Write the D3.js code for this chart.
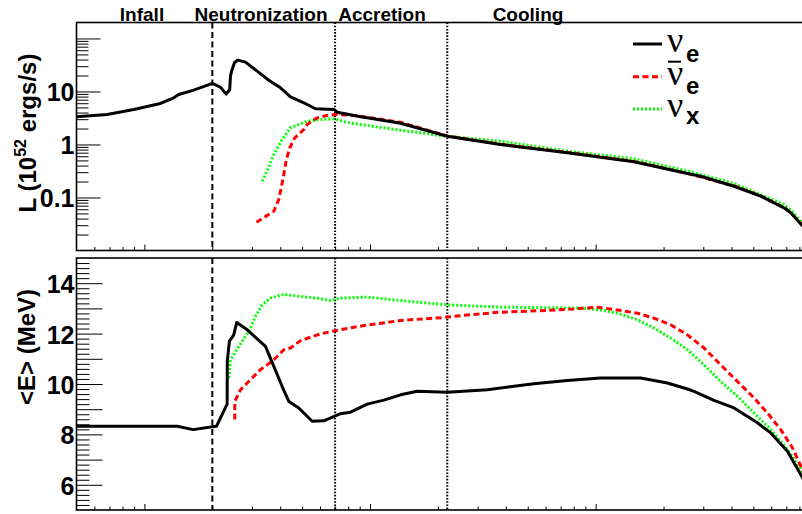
<!DOCTYPE html>
<html><head><meta charset="utf-8">
<script src="https://cdn.jsdelivr.net/npm/d3@7"></script>
<style>html,body{margin:0;padding:0;background:#fff;} svg{display:block;}</style>
</head><body>
<svg id="c" width="802" height="514"></svg>
<script>
// ---------------- DATA ----------------
// time axis (s, log scale)
const xDomain = [0.005, 8.3];
const phaseTimes = [0.02, 0.07, 0.22];
const phaseLabels = ["Infall", "Neutronization", "Accretion", "Cooling"];

// Luminosity L (10^52 erg/s)
const tLnue = [0.005, 0.00683, 0.00897, 0.01178, 0.01349, 0.0142, 0.01654, 0.02003, 0.02173, 0.02303, 0.02389, 0.02406, 0.02448, 0.02506, 0.02592, 0.02805, 0.0316, 0.03558, 0.0401, 0.04442, 0.05087, 0.05732, 0.06912, 0.07156, 0.09077, 0.0972, 0.1366, 0.22, 0.3791, 0.749, 1.478, 2.464, 2.922, 4.106, 5.392, 6.839, 7.323, 8.17, 8.3];
const Lnue = [3.33, 3.68, 4.58, 5.94, 7.61, 8.78, 10.58, 14.16, 12.0, 8.9, 10.9, 19.4, 26.0, 34.8, 39.0, 35.7, 24.2, 16.3, 11.7, 7.94, 6.12, 4.72, 4.58, 4.07, 3.33, 3.19, 2.52, 1.43, 1.0, 0.70, 0.472, 0.292, 0.252, 0.163, 0.106, 0.0639, 0.0514, 0.0309, 0.0285];

const tLanue = [0.03138, 0.03746, 0.0394, 0.0412, 0.0425, 0.0440, 0.0462, 0.0509, 0.05265, 0.05833, 0.06461, 0.07031, 0.08475, 0.09719, 0.1366, 0.22, 0.3791, 0.749, 1.478, 2.464, 4.106, 5.392, 6.839, 7.323, 8.17, 8.3];
const Lanue = [0.0342, 0.0551, 0.092, 0.23, 0.5, 0.85, 1.3, 1.92, 2.38, 3.19, 3.53, 3.68, 3.53, 3.25, 2.62, 1.45, 1.01, 0.71, 0.48, 0.295, 0.165, 0.107, 0.065, 0.052, 0.031, 0.0288];

const tLnux = [0.03327, 0.03501, 0.03746, 0.0408, 0.0444, 0.0527, 0.0603, 0.0698, 0.0792, 0.0972, 0.1366, 0.22, 0.3791, 0.749, 1.478, 2.464, 4.106, 6.839, 7.4, 8.3];
const Lnux = [0.203, 0.32, 0.648, 1.243, 2.07, 2.75, 2.96, 3.05, 2.6, 2.28, 1.86, 1.43, 1.154, 0.747, 0.537, 0.3275, 0.1836, 0.0738, 0.056, 0.031];

// Mean energy <E> (MeV)
const tEnue = [0.005, 0.01397, 0.01644, 0.02, 0.02086, 0.02263, 0.02326, 0.0233, 0.0238, 0.02489, 0.02565, 0.02854, 0.0344, 0.03746, 0.0408, 0.04365, 0.04834, 0.05541, 0.0624, 0.074, 0.08194, 0.09719, 0.1151, 0.1366, 0.1619, 0.22, 0.3308, 0.5325, 0.749, 1.052, 1.583, 2.08, 2.551, 2.729, 3.346, 4.106, 5.213, 5.972, 7.083, 8.3];
const Enue = [8.32, 8.32, 8.19, 8.30, 8.32, 8.98, 9.2, 10.9, 11.7, 11.95, 12.44, 12.15, 11.49, 10.7, 9.9, 9.31, 9.05, 8.52, 8.54, 8.82, 8.88, 9.2, 9.36, 9.57, 9.71, 9.67, 9.77, 10.01, 10.14, 10.24, 10.24, 10.04, 9.8, 9.71, 9.35, 9.05, 8.46, 8.06, 7.33, 6.25];

const tEanue = [0.02514, 0.02515, 0.02666, 0.02854, 0.03269, 0.03501, 0.03746, 0.04148, 0.04442, 0.0492, 0.0603, 0.0698, 0.0878, 0.1076, 0.1366, 0.2125, 0.2698, 0.3791, 0.5704, 0.8013, 1.017, 1.248, 1.53, 1.814, 2.151, 2.551, 3.022, 3.584, 4.25, 5.035, 5.773, 6.614, 7.455, 8.3];
const Eanue = [8.59, 9.31, 9.77, 10.04, 10.57, 10.76, 10.96, 11.36, 11.43, 11.72, 11.99, 12.11, 12.28, 12.39, 12.52, 12.64, 12.74, 12.85, 12.91, 12.98, 13.05, 12.94, 12.81, 12.61, 12.35, 11.95, 11.43, 10.76, 10.10, 9.45, 8.85, 8.19, 7.47, 6.55];

const tEnux = [0.02365, 0.02406, 0.0262, 0.0295, 0.03105, 0.03327, 0.03622, 0.04148, 0.04919, 0.05833, 0.06682, 0.07398, 0.09719, 0.1366, 0.22, 0.3791, 0.8875, 1.052, 1.248, 1.53, 1.814, 2.151, 2.551, 3.022, 3.584, 4.25, 5.035, 5.972, 7.083, 8.3];
const Enux = [10.24, 10.96, 11.49, 12.2, 12.68, 13.14, 13.41, 13.56, 13.47, 13.41, 13.31, 13.41, 13.45, 13.31, 13.14, 13.05, 13.01, 12.94, 12.81, 12.55, 12.22, 11.82, 11.36, 10.76, 10.10, 9.51, 8.85, 8.19, 7.40, 6.5];

// axis tick labels
const lTickValues = [0.1, 1, 10];
const lTickLabels = ["0.1", "1", "10"];
const eTickValues = [6, 8, 10, 12, 14];
const eTickLabels = ["6", "8", "10", "12", "14"];
const legendSub = ["e", "e", "x"];

// ---------------- LAYOUT ----------------
const svg = d3.select("#c");
const X0 = 76.5, X1 = 803;
const P1 = {y0: 22.5, y1: 250.5};
const P2 = {y0: 258, y1: 510};
const FONT = "'Liberation Sans', Arial, Helvetica, sans-serif";

const x = d3.scaleLog().domain(xDomain).range([X0, X1]);
const yL = d3.scaleLog().domain([0.01, 200]).range([P1.y1, P1.y0]);
const yE = d3.scaleLinear().domain([5, 15]).range([P2.y1, P2.y0]);

// clip paths
const defs = svg.append("defs");
[["c1", P1], ["c2", P2]].forEach(([id, p]) => {
  defs.append("clipPath").attr("id", id).append("rect")
    .attr("x", X0).attr("y", p.y0).attr("width", X1 - X0).attr("height", p.y1 - p.y0);
});

// --- minor tick helpers
const decadesMinor = (lo, hi) => {
  const out = [];
  for (let k = -3; k <= 3; k++) for (let m = 2; m <= 9; m++) {
    const v = m * Math.pow(10, k);
    if (v > lo * 1.0001 && v < hi * 0.9999) out.push(v);
  }
  return out;
};

function styleAxis(g) {
  g.select(".domain").remove();
  g.selectAll(".tick line").attr("stroke", "#000").attr("stroke-width", 1);
}

// Y axis top (log)
const gyL1 = svg.append("g").attr("transform", `translate(${X0},0)`)
  .call(d3.axisLeft(yL).tickValues(decadesMinor(0.01, 200)).tickSizeInner(-12).tickSizeOuter(0).tickFormat(""));
styleAxis(gyL1);
const gyL2 = svg.append("g").attr("transform", `translate(${X0},0)`)
  .call(d3.axisLeft(yL).tickValues([0.1, 1, 10, 100]).tickSizeInner(-24).tickSizeOuter(0).tickPadding(2)
    .tickFormat(d => { const i = lTickValues.indexOf(d); return i >= 0 ? lTickLabels[i] : ""; }));
styleAxis(gyL2);

// Y axis bottom (linear)
const eMinor = d3.range(50, 151, 2).map(v => v / 10).filter(v => Math.abs(v - Math.round(v)) > 1e-6);
const gyE1 = svg.append("g").attr("transform", `translate(${X0},0)`)
  .call(d3.axisLeft(yE).tickValues(eMinor).tickSizeInner(-13).tickSizeOuter(0).tickFormat(""));
styleAxis(gyE1);
const gyE2 = svg.append("g").attr("transform", `translate(${X0},0)`)
  .call(d3.axisLeft(yE).tickValues(d3.range(6, 15)).tickSizeInner(-26).tickSizeOuter(0).tickPadding(2)
    .tickFormat(d => { const i = eTickValues.indexOf(d); return i >= 0 ? eTickLabels[i] : ""; }));
styleAxis(gyE2);

[gyL2, gyE2].forEach(g => g.selectAll("text")
  .attr("fill", "#000").attr("font-family", FONT).attr("font-weight", "bold")
  .attr("font-size", 25).attr("dy", "0.38em"));

// X axes (no labels)
[P1, P2].forEach(p => {
  const g1 = svg.append("g").attr("transform", `translate(0,${p.y1})`)
    .call(d3.axisBottom(x).tickValues(decadesMinor(xDomain[0], xDomain[1])).tickSizeInner(-3.5).tickSizeOuter(0).tickFormat(""));
  styleAxis(g1);
  const g2 = svg.append("g").attr("transform", `translate(0,${p.y1})`)
    .call(d3.axisBottom(x).tickValues([0.01, 0.1, 1]).tickSizeInner(-6).tickSizeOuter(0).tickFormat(""));
  styleAxis(g2);
});

// phase separators
const sepStyles = ["6,3.5", "1.6,1.6", "1.6,1.6"];
[P1, P2].forEach(p => {
  svg.append("g").selectAll("line").data(phaseTimes).join("line")
    .attr("x1", d => x(d)).attr("x2", d => x(d))
    .attr("y1", p.y0).attr("y2", p.y1)
    .attr("stroke", "#000").attr("stroke-width", 2)
    .attr("stroke-dasharray", (d, i) => sepStyles[i]);
});

// curves
const styles = [
  {color: "#000000", dash: null},
  {color: "#ff0000", dash: "6,3.5"},
  {color: "#00ff00", dash: "2,2"}
];
const lineL = d3.line().x(d => x(d[0])).y(d => yL(d[1]));
const lineE = d3.line().x(d => x(d[0])).y(d => yE(d[1]));
const seriesL = [d3.zip(tLnue, Lnue), d3.zip(tLanue, Lanue), d3.zip(tLnux, Lnux)];
const seriesE = [d3.zip(tEnue, Enue), d3.zip(tEanue, Eanue), d3.zip(tEnux, Enux)];
const gc1 = svg.append("g").attr("clip-path", "url(#c1)");
const gc2 = svg.append("g").attr("clip-path", "url(#c2)");
[2, 1, 0].forEach(i => {
  gc1.append("path").attr("d", lineL(seriesL[i])).attr("fill", "none")
    .attr("stroke", styles[i].color).attr("stroke-width", 3)
    .attr("stroke-dasharray", styles[i].dash).attr("stroke-linejoin", "round");
  gc2.append("path").attr("d", lineE(seriesE[i])).attr("fill", "none")
    .attr("stroke", styles[i].color).attr("stroke-width", 3)
    .attr("stroke-dasharray", styles[i].dash).attr("stroke-linejoin", "round");
});

// frames
[P1, P2].forEach(p => {
  svg.append("rect").attr("x", X0).attr("y", p.y0).attr("width", X1 - X0 + 3).attr("height", p.y1 - p.y0)
    .attr("fill", "none").attr("stroke", "#000").attr("stroke-width", 1.6);
});

// phase labels
const phaseX = [142, 261, 382, 528];
svg.append("g").selectAll("text").data(phaseLabels).join("text")
  .attr("x", (d, i) => phaseX[i]).attr("y", 20.5)
  .attr("text-anchor", "middle").attr("font-family", FONT).attr("font-weight", "bold")
  .attr("font-size", 19).attr("fill", "#000").text(d => d);

// axis titles
const tL = svg.append("text").attr("transform", "translate(36,133) rotate(-90)")
  .attr("text-anchor", "middle").attr("font-family", FONT).attr("font-weight", "bold")
  .attr("font-size", 24).attr("fill", "#000");
tL.append("tspan").text("L (10");
tL.append("tspan").attr("font-size", 16).attr("dy", -10).text("52");
tL.append("tspan").attr("dy", 10).text(" ergs/s)");
svg.append("text").attr("transform", "translate(35,347) rotate(-90)")
  .attr("text-anchor", "middle").attr("font-family", FONT).attr("font-weight", "bold")
  .attr("font-size", 24).attr("fill", "#000").text("<E> (MeV)");

// legend
const legY = [44, 76.7, 109];
const nuBase = [51.7, 85, 116.7];
const subBase = [61.7, 94, 124];
const leg = svg.append("g");
legY.forEach((yy, i) => {
  leg.append("line").attr("x1", 633).attr("x2", 662).attr("y1", yy).attr("y2", yy)
    .attr("stroke", styles[i].color).attr("stroke-width", 3).attr("stroke-dasharray", styles[i].dash);
  leg.append("text").attr("x", 667).attr("y", nuBase[i])
    .attr("font-family", "'Liberation Serif', 'Times New Roman', serif").attr("font-size", 36)
    .attr("fill", "#000").text("ν");
  leg.append("text").attr("x", 686).attr("y", subBase[i])
    .attr("font-family", FONT).attr("font-weight", "bold").attr("font-size", 24)
    .attr("fill", "#000").text(legendSub[i]);
});
leg.append("line").attr("x1", 668).attr("x2", 681).attr("y1", 61.7).attr("y2", 61.7)
  .attr("stroke", "#000").attr("stroke-width", 2);
</script>
</body></html>
